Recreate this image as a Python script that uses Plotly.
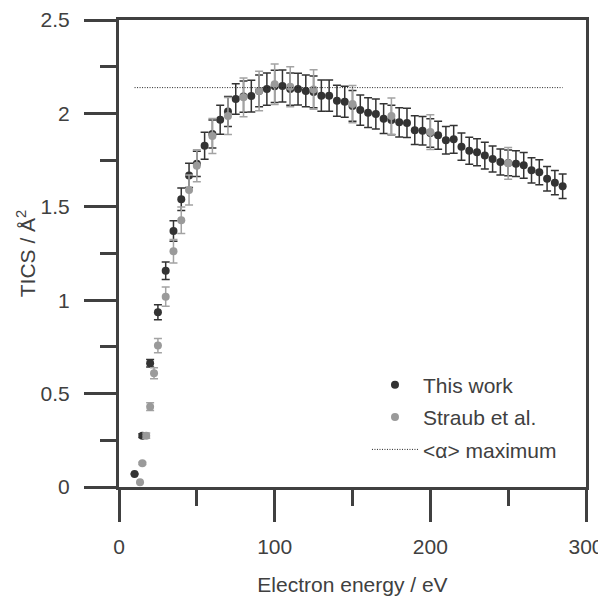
import plotly.graph_objects as go

# This work
tw_energy = [10, 15, 20, 25, 30, 35, 40, 45, 50, 55, 60, 65, 70, 75, 80, 85, 90, 95,
             100, 105, 110, 115, 120, 125, 130, 135, 140, 145, 150, 155, 160, 165, 170,
             175, 180, 185, 190, 195, 200, 205, 210, 215, 220, 225, 230, 235, 240, 245,
             250, 255, 260, 265, 270, 275, 280, 285]
tw_tics = [0.07, 0.275, 0.662, 0.935, 1.158, 1.370, 1.540, 1.668, 1.73, 1.827, 1.89, 1.966,
           2.01, 2.077, 2.09, 2.093, 2.12, 2.13, 2.145, 2.147, 2.13, 2.13, 2.12, 2.115,
           2.095, 2.095, 2.068, 2.063, 2.04, 2.018, 2.004, 1.997, 1.972, 1.965, 1.952,
           1.949, 1.91, 1.907, 1.895, 1.883, 1.856, 1.861, 1.822, 1.80, 1.792, 1.774,
           1.756, 1.74, 1.735, 1.731, 1.722, 1.695, 1.685, 1.65, 1.629, 1.61]
tw_err = [0.0, 0.01, 0.02, 0.04, 0.047, 0.055, 0.06, 0.065, 0.068, 0.072, 0.075, 0.078,
          0.08, 0.082, 0.084, 0.085, 0.085, 0.086, 0.086, 0.086, 0.086, 0.085, 0.085, 0.085,
          0.084, 0.084, 0.083, 0.083, 0.082, 0.081, 0.080, 0.080, 0.079, 0.079, 0.078,
          0.078, 0.077, 0.076, 0.076, 0.075, 0.074, 0.074, 0.073, 0.072, 0.072, 0.071,
          0.070, 0.070, 0.069, 0.069, 0.069, 0.068, 0.067, 0.066, 0.065, 0.065]

# Straub et al.
st_energy = [13.5, 15, 17.5, 20, 22.5, 25, 30, 35, 40, 45, 50, 60, 70, 80, 90, 100, 110,
             125, 150, 175, 200, 250]
st_tics = [0.025, 0.127, 0.275, 0.43, 0.609, 0.757, 1.019, 1.262, 1.428, 1.59, 1.72, 1.879,
           1.986, 2.086, 2.12, 2.156, 2.143, 2.128, 2.05, 1.986, 1.90, 1.733]
st_err = [0.001, 0.006, 0.014, 0.021, 0.03, 0.038, 0.051, 0.063, 0.071, 0.08, 0.086, 0.094,
          0.099, 0.104, 0.106, 0.108, 0.107, 0.106, 0.1, 0.097, 0.093, 0.085]

# <alpha> maximum line
alpha_energy = [10, 285]
alpha_tics = [2.138, 2.138]

DARK = "#333333"
GRAY = "#9a9a9a"
AXIS = "#404040"
TEXT = "#404040"
FONT = "Liberation Sans, Arial, sans-serif"
FS = 21

fig = go.Figure()
fig.add_trace(go.Scatter(
    x=tw_energy, y=tw_tics, mode="markers", name="This work",
    legendgroup="a",
    marker=dict(color=DARK, size=8),
    error_y=dict(type="data", array=tw_err, color=DARK, thickness=1.5, width=4),
))
fig.add_trace(go.Scatter(
    x=st_energy, y=st_tics, mode="markers", name="Straub et al.",
    legendgroup="b",
    marker=dict(color=GRAY, size=8),
    error_y=dict(type="data", array=st_err, color="#a3a3a3", thickness=1.5, width=4),
))
fig.add_trace(go.Scatter(
    x=alpha_energy, y=alpha_tics, mode="lines", name="&lt;α&gt; maximum",
    legendgroup="c",
    line=dict(color="#222222", width=1, dash="1px,1.5px"),
))

# The page body has an 8px default margin, so the figure is offset by 8px.
fig.update_layout(
    width=598, height=588,
    margin=dict(l=111, r=20, t=12, b=109),
    plot_bgcolor="white", paper_bgcolor="white",
    font=dict(family=FONT, size=FS, color=TEXT),
    showlegend=True,
    legend=dict(
        x=0.531, y=0.262, xanchor="left", yanchor="top",
        bgcolor="rgba(0,0,0,0)", borderwidth=0,
        font=dict(size=FS, color=TEXT),
        itemwidth=46, traceorder="grouped", tracegroupgap=2,
    ),
)

fig.update_xaxes(
    range=[0, 300], tickvals=[0, 100, 200, 300],
    showgrid=False, zeroline=False, automargin=False,
    showline=True, linewidth=3, linecolor=AXIS, mirror=True,
    ticks="outside", ticklen=32, tickwidth=3, tickcolor=AXIS,
    minor=dict(dtick=50, ticks="outside", ticklen=16, tickwidth=3, tickcolor=AXIS, showgrid=False),
    ticklabelstandoff=7,
    tickfont=dict(size=FS, color=TEXT),
    title=dict(text="Electron energy / eV", font=dict(size=FS, color=TEXT), standoff=25),
)
fig.update_yaxes(
    range=[0, 2.5], tickvals=[0, 0.5, 1, 1.5, 2, 2.5], ticktext=["0", "0.5", "1", "1.5", "2", "2.5"],
    showgrid=False, zeroline=False, automargin=False,
    showline=True, linewidth=3, linecolor=AXIS, mirror=True,
    ticks="outside", ticklen=32, tickwidth=3, tickcolor=AXIS,
    minor=dict(dtick=0.25, ticks="outside", ticklen=16, tickwidth=3, tickcolor=AXIS, showgrid=False),
    ticklabelstandoff=10,
    tickfont=dict(size=FS, color=TEXT),
    title=dict(text="TICS / Å<sup>2</sup>", font=dict(size=FS, color=TEXT), standoff=0),
)

fig.write_html("out.html")
